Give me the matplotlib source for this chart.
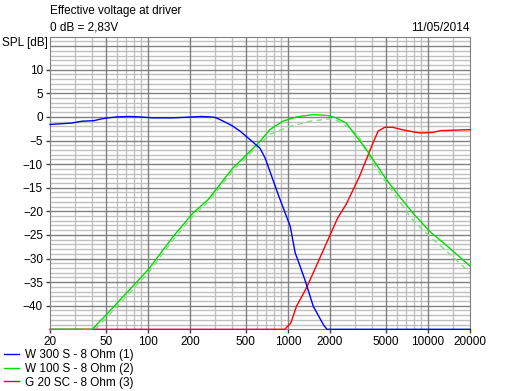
import numpy as np
import matplotlib.pyplot as plt
from matplotlib.ticker import FixedLocator, NullFormatter

plt.rcParams['font.family'] = ['Liberation Sans', 'DejaVu Sans']

# --- Data
f_w300 = [20, 28.6, 34, 41, 47, 52, 60, 74, 88, 109, 150, 179, 242, 280, 302, 335, 397, 455,
          536, 631, 688, 767, 862, 1040, 1128, 1222, 1323, 1518, 1792, 1900, 20000]
db_w300 = [-1.6, -1.3, -0.9, -0.8, -0.4, -0.2, 0.0, 0.1, 0.0, -0.2, -0.2, -0.1, 0.1, 0.0, -0.1, -0.7, -1.8, -3.0,
           -4.8, -6.6, -8.7, -12.6, -16.8, -23.2, -28.8, -31.6, -34.5, -40.1, -44.0, -45.0, -45.0]

f_w100 = [20, 40, 50.5, 70.4, 101, 152, 211, 270, 400, 536, 631, 743, 921, 1153, 1518, 1935,
          2211, 2611, 3080, 3636, 4292, 5067, 5982, 7789, 10271, 14300, 20000]
db_w100 = [-45, -45, -41.9, -37.3, -32.3, -25.3, -20.3, -17.5, -11.0, -7.3, -5.2, -2.7, -0.9, 0.0, 0.5, 0.3,
           -0.2, -1.3, -4.1, -6.9, -10.1, -13.3, -16.1, -20.3, -24.2, -27.8, -31.6]

f_w100b = [42, 50.5, 70.4, 101, 152, 211, 270, 400, 536, 743, 1038, 1442, 1990, 2300, 2760, 3200,
           4000, 5067, 5982, 7789, 10271, 14300, 20000]
db_w100b = [-45, -42.6, -38.0, -33.0, -26.0, -21.0, -18.0, -11.6, -7.8, -3.7, -2.0, -0.9, -0.4, -0.9, -2.3, -4.1,
            -9.6, -14.0, -17.0, -21.8, -25.3, -29.0, -33.0]

f_g20 = [20, 950, 1048, 1153, 1360, 1442, 1612, 1990, 2270, 2611, 3249, 3969, 4416, 4921, 5610,
         6770, 8790, 10780, 12350, 20000]
db_g20 = [-45, -45, -43.7, -40.1, -36.2, -34.5, -31.3, -25.2, -21.4, -18.5, -12.6, -6.2, -3.0, -2.2, -2.2,
          -2.8, -3.4, -3.3, -2.9, -2.7]

labels = ['W 300 S - 8 Ohm (1)', 'W 100 S - 8 Ohm (2)', 'G 20 SC - 8 Ohm (3)']
x_major = [20, 50, 100, 200, 500, 1000, 2000, 5000, 10000, 20000]
y_labels = list(range(10, -45, -5))

# --- Plot
W, H = 515, 391
fig = plt.figure(figsize=(W/100, H/100), dpi=100)
ax = fig.add_axes([50/W, 1-329.3/H, 420/W, 292.6/H])

ax.set_xscale('log')
ax.set_xlim(20, 20000)
ax.set_ylim(-45, 17)

minor_x = [v*d for d in (10, 100, 1000) for v in range(2, 10)] + [15000]
minor_x = [v for v in minor_x if 20 < v < 20000 and v not in x_major]
for v in minor_x:
    ax.axvline(v, color='#c0c0c0', lw=1, zorder=0)
for v in x_major[1:-1]:
    ax.axvline(v, color='#808080', lw=1, zorder=1)
for v in range(-44, 17):
    ax.axhline(v, color='#808080' if v % 5 == 0 else '#c0c0c0', lw=1, zorder=1 if v % 5 == 0 else 0)

ax.plot(f_w100b, db_w100b, color='#80e080', lw=1, ls=(0, (4, 3)), zorder=3, clip_on=False)
ax.plot(f_g20, db_g20, color='#ff0000', lw=1, zorder=4, clip_on=False, label=labels[2])
ax.plot(f_w100, db_w100, color='#00dd00', lw=1, zorder=5, clip_on=False, label=labels[1])
ax.plot(f_w300, db_w300, color='#0000ff', lw=1, zorder=6, clip_on=False, label=labels[0])

ax.xaxis.set_major_locator(FixedLocator(x_major))
ax.xaxis.set_minor_locator(FixedLocator([]))
ax.xaxis.set_minor_formatter(NullFormatter())
ax.set_xticklabels([str(v) for v in x_major])
ax.yaxis.set_major_locator(FixedLocator(y_labels))
ax.tick_params(axis='both', direction='out', length=3, width=1, color='#404040',
               labelsize=8.5, pad=2)
for s in ax.spines.values():
    s.set_color('#808080')

fig.text(50/W, 1-11/H, 'Effective voltage at driver', fontsize=8.5, va='center', ha='left')
fig.text(50/W, 1-28/H, '0 dB = 2,83V', fontsize=8.5, va='center', ha='left')
fig.text(470/W, 1-28/H, '11/05/2014', fontsize=8.5, va='center', ha='right')
fig.text(2/W, 1-43/H, 'SPL [dB]', fontsize=8.5, va='center', ha='left')

h, l = ax.get_legend_handles_labels()
fig.legend(h[::-1], l[::-1], loc='upper left', bbox_to_anchor=(4/W, 1-349/H), frameon=False,
           fontsize=8.5, handlelength=1.3, handletextpad=0.45, labelspacing=0.15,
           borderpad=0, borderaxespad=0)

fig.savefig('out.png', dpi=100)
